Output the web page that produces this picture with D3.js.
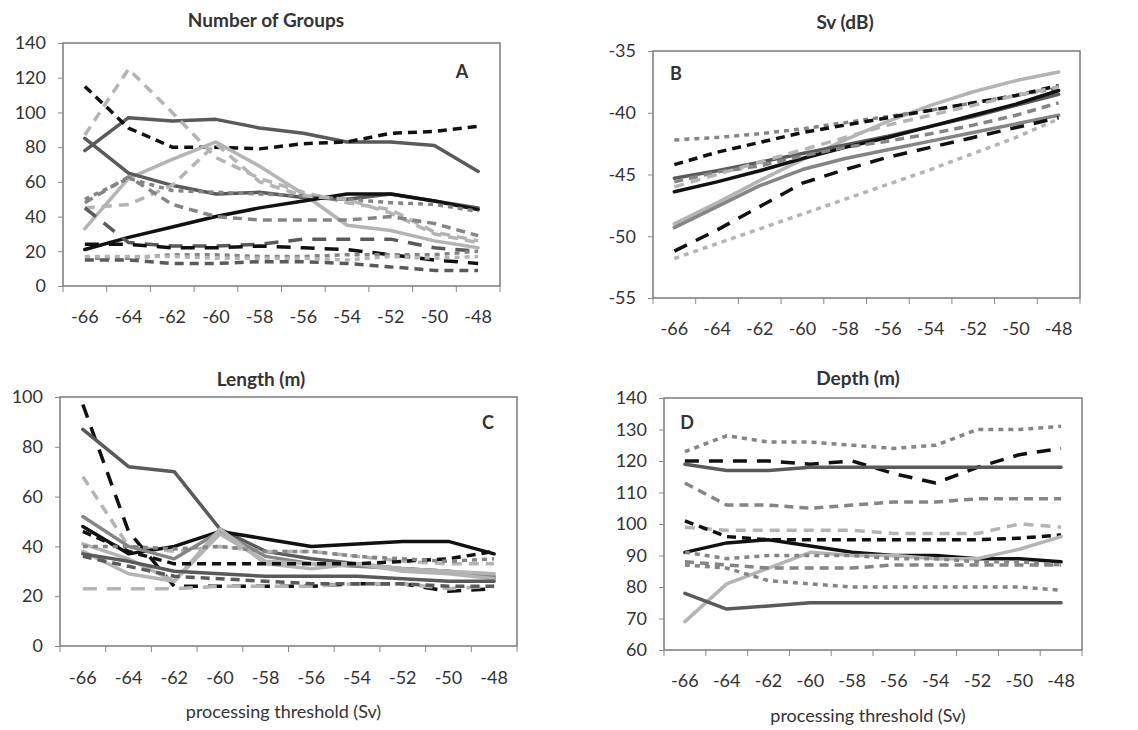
<!DOCTYPE html>
<html>
<head>
<meta charset="utf-8">
<script src="https://cdn.jsdelivr.net/npm/d3@7"></script>
<style>
  html, body { margin: 0; padding: 0; background: #fff; }
  svg text { font-family: Lato, "Open Sans", sans-serif; fill: #333; }
</style>
</head>
<body>
<svg id="chart" width="1138" height="730"></svg>
<script>
// Processing thresholds (Sv, dB) used as categories on every panel
const thresholds = ["-66", "-64", "-62", "-60", "-58", "-56", "-54", "-52", "-50", "-48"];

// Panel A: number of groups per school, one row per school
const groupsSeries = [
  [78, 97, 95, 96, 91, 88, 83, 83, 81, 66],
  [115, 91, 80, 80, 79, 82, 83, 88, 89, 92],
  [87, 125, 100, 74, 62, 54, 48, 44, 31, 26],
  [33, 62, 73, 83, 69, 53, 35, 32, 26, 22],
  [85, 65, 58, 53, 54, 51, 50, 53, 49, 45],
  [21, 28, 34, 40, 45, 49, 53, 53, 49, 44],
  [50, 62, 55, 54, 53, 52, 50, 48, 47, 43],
  [45, 47, 58, 82, 60, 52, 50, 42, 30, 25],
  [48, 63, 47, 40, 38, 38, 38, 40, 36, 29],
  [45, 25, 23, 23, 24, 27, 27, 27, 22, 20],
  [24, 24, 22, 22, 23, 22, 21, 18, 15, 13],
  [16, 16, 18, 18, 17, 17, 18, 18, 18, 20],
  [15, 15, 13, 13, 14, 14, 13, 11, 9, 9],
  [17, 17, 17, 16, 16, 16, 15, 17, 16, 17]
];
const groupsStyles = ["dkgrey", "blackDash", "ltgreyDash", "ltgrey", "dkgrey", "black", "greyDot",
  "ltgreyDash", "greyDash", "dkgreyLong", "blackLong", "greyDot", "dkgreyDash", "ltgreyDot"];

// Panel B: mean Sv (dB)
const svSeries = [
  [-49.0, -47.3, -45.5, -43.8, -42.2, -40.7, -39.4, -38.3, -37.4, -36.7],
  [-42.2, -42.0, -41.7, -41.3, -40.8, -40.3, -39.8, -39.2, -38.6, -38.0],
  [-44.2, -43.2, -42.4, -41.6, -41.0, -40.4, -39.8, -39.2, -38.6, -37.8],
  [-45.3, -44.7, -44.0, -43.3, -42.6, -41.9, -41.1, -40.3, -39.4, -38.5],
  [-46.4, -45.6, -44.7, -43.7, -42.8, -42.0, -41.1, -40.2, -39.3, -38.2],
  [-49.3, -47.6, -45.9, -44.6, -43.7, -43.0, -42.3, -41.6, -40.9, -40.2],
  [-51.2, -49.5, -47.6, -45.7, -44.6, -43.6, -42.8, -42.0, -41.2, -40.4],
  [-51.8, -50.6, -49.4, -48.2, -47.0, -45.8, -44.6, -43.3, -42.0, -40.5],
  [-45.6, -44.8, -44.3, -43.5, -42.8, -42.3, -41.7, -41.0, -40.2, -39.2],
  [-46.0, -45.0, -44.0, -43.0, -42.0, -41.0, -40.2, -39.4, -38.6, -37.9]
];
const svStyles = ["ltgrey", "greyDot", "blackDash", "dkgrey", "black", "grey", "blackLong",
  "ltgreyDot", "greyDash", "ltgreyDash"];

// Panel C: school length (m)
const lengthSeries = [
  [97, 46, 24, 24, 24, 24, 25, 25, 22, 23],
  [87, 72, 70, 47, 38, 35, 33, 31, 30, 27],
  [68, 40, 38, 40, 38, 38, 36, 34, 33, 33],
  [48, 37, 40, 46, 43, 40, 41, 42, 42, 37],
  [52, 40, 35, 46, 36, 33, 32, 31, 30, 28],
  [41, 35, 26, 47, 33, 31, 33, 31, 30, 29],
  [38, 29, 26, 45, 34, 33, 33, 30, 29, 27],
  [46, 38, 33, 33, 33, 33, 33, 34, 35, 38],
  [23, 23, 23, 24, 24, 24, 25, 25, 23, 24],
  [37, 34, 30, 29, 28, 28, 28, 27, 26, 26],
  [40, 40, 39, 40, 38, 38, 36, 35, 34, 35],
  [36, 32, 28, 27, 26, 25, 25, 25, 24, 24]
];
const lengthStyles = ["blackLong", "dkgrey", "ltgreyDash", "black", "grey", "ltgrey", "ltgrey",
  "blackDash", "ltgreyLong", "dkgrey", "greyDot", "dkgreyDash"];

// Panel D: school depth (m)
const depthSeries = [
  [123, 128, 126, 126, 125, 124, 125, 130, 130, 131],
  [120, 120, 120, 119, 120, 116, 113, 118, 122, 124],
  [119, 117, 117, 118, 118, 118, 118, 118, 118, 118],
  [113, 106, 106, 105, 106, 107, 107, 108, 108, 108],
  [99, 98, 98, 98, 98, 97, 97, 97, 100, 99],
  [101, 96, 95, 95, 95, 95, 95, 95, 95.5, 96.5],
  [91, 94, 95, 93, 91, 90, 90, 89, 89, 88],
  [69, 81, 86, 91, 90, 90, 89, 89, 92, 96],
  [78, 73, 74, 75, 75, 75, 75, 75, 75, 75],
  [91, 89, 90, 90, 90, 89, 89, 88, 88, 87],
  [88, 87, 86, 86, 86, 87, 87, 87, 87, 87],
  [87, 86, 82, 81, 80, 80, 80, 80, 80, 79]
];
const depthStyles = ["greyDot", "blackLong", "dkgrey", "greyDash", "ltgreyDash", "blackDash",
  "black", "ltgrey", "dkgrey", "greyDot", "greyDash", "greyDot"];

// Tick values for the y axes
const groupsTicks = [0, 20, 40, 60, 80, 100, 120, 140];
const svTicks = [-55, -50, -45, -40, -35];
const lengthTicks = [0, 20, 40, 60, 80, 100];
const depthTicks = [60, 70, 80, 90, 100, 110, 120, 130, 140];

// Line appearance keyed by name
const lineStyles = {
  black:       { color: "#111", dash: null },
  blackDash:   { color: "#111", dash: "9,6" },
  blackLong:   { color: "#111", dash: "14,10" },
  dkgrey:      { color: "#5a5a5a", dash: null },
  dkgreyDash:  { color: "#5a5a5a", dash: "9,6" },
  dkgreyLong:  { color: "#5a5a5a", dash: "14,10" },
  grey:        { color: "#858585", dash: null },
  greyDash:    { color: "#858585", dash: "9,6" },
  greyDot:     { color: "#858585", dash: "5,5" },
  ltgrey:      { color: "#b4b4b4", dash: null },
  ltgreyDash:  { color: "#b4b4b4", dash: "10,7" },
  ltgreyLong:  { color: "#b4b4b4", dash: "14,10" },
  ltgreyDot:   { color: "#b4b4b4", dash: "5,5" }
};

const panels = [
  { title: "Number of Groups", letter: "A", series: groupsSeries, styles: groupsStyles, ticks: groupsTicks,
    domain: [0, 140], box: { x0: 63, x1: 500, y0: 43, y1: 286 }, titlePos: [266, 19],
    letterPos: [462, 71], xLabelY: 316, xTitle: null },
  { title: "Sv (dB)", letter: "B", series: svSeries, styles: svStyles, ticks: svTicks,
    domain: [-55, -35], box: { x0: 653, x1: 1080, y0: 51, y1: 298 }, titlePos: [845, 21],
    letterPos: [676, 73], xLabelY: 328, xTitle: null },
  { title: "Length (m)", letter: "C", series: lengthSeries, styles: lengthStyles, ticks: lengthTicks,
    domain: [0, 100], box: { x0: 60, x1: 517, y0: 397, y1: 646 }, titlePos: [261, 378],
    letterPos: [488, 422], xLabelY: 677, xTitle: "processing threshold (Sv)", xTitleY: 711 },
  { title: "Depth (m)", letter: "D", series: depthSeries, styles: depthStyles, ticks: depthTicks,
    domain: [60, 140], box: { x0: 664, x1: 1082, y0: 398, y1: 650 }, titlePos: [858, 377],
    letterPos: [687, 422], xLabelY: 680, xTitle: "processing threshold (Sv)", xTitleY: 715 }
];

const svg = d3.select("#chart");

panels.forEach(p => {
  const b = p.box;
  const x = d3.scaleBand().domain(thresholds).range([b.x0, b.x1]).padding(0);
  const y = d3.scaleLinear().domain(p.domain).range([b.y1, b.y0]);
  const g = svg.append("g");

  // plot frame
  g.append("rect")
    .attr("x", b.x0).attr("y", b.y0)
    .attr("width", b.x1 - b.x0).attr("height", b.y1 - b.y0)
    .attr("fill", "none").attr("stroke", "#7a7a7a").attr("stroke-width", 1.5);

  // y axis (plain hyphen minus in labels)
  const yAxis = d3.axisLeft(y).tickValues(p.ticks).tickSize(5).tickPadding(12).tickFormat(d => String(d));
  const ya = g.append("g").attr("transform", `translate(${b.x0},0)`).call(yAxis);
  ya.select(".domain").remove();
  ya.selectAll(".tick line").attr("stroke", "#888");
  ya.selectAll(".tick text").style("font-size", "18px").attr("fill", "#3a3a3a");

  // x axis: tick marks on category boundaries, labels centred in each category
  const bounds = thresholds.map(t => x(t)).concat([b.x1]);
  g.selectAll(".xtick").data(bounds).join("line")
    .attr("x1", d => d).attr("x2", d => d)
    .attr("y1", b.y1).attr("y2", b.y1 + 6)
    .attr("stroke", "#888").attr("stroke-width", 1);
  g.selectAll(".xlab").data(thresholds).join("text")
    .attr("x", d => x(d) + x.bandwidth() / 2)
    .attr("y", p.xLabelY)
    .attr("text-anchor", "middle").attr("dominant-baseline", "central")
    .style("font-size", "18px").attr("fill", "#3a3a3a")
    .text(d => d);

  // series lines
  const line = d3.line()
    .x((d, i) => x(thresholds[i]) + x.bandwidth() / 2)
    .y(d => y(d));
  p.series.forEach((vals, i) => {
    const st = lineStyles[p.styles[i]];
    g.append("path")
      .datum(vals)
      .attr("d", line)
      .attr("fill", "none")
      .attr("stroke", st.color)
      .attr("stroke-width", 3.5)
      .attr("stroke-linejoin", "round")
      .attr("stroke-linecap", st.dash ? "butt" : "round")
      .attr("stroke-dasharray", st.dash);
  });

  // panel title
  g.append("text")
    .attr("x", p.titlePos[0]).attr("y", p.titlePos[1])
    .attr("text-anchor", "middle").attr("dominant-baseline", "central")
    .style("font-size", "19px").style("font-weight", "bold").attr("fill", "#444")
    .text(p.title);

  // panel letter
  g.append("text")
    .attr("x", p.letterPos[0]).attr("y", p.letterPos[1])
    .attr("text-anchor", "middle").attr("dominant-baseline", "central")
    .style("font-size", "18px").style("font-weight", "bold").attr("fill", "#222")
    .text(p.letter);

  // x axis title
  if (p.xTitle) {
    g.append("text")
      .attr("x", (b.x0 + b.x1) / 2 - 5)
      .attr("y", p.xTitleY)
      .attr("text-anchor", "middle").attr("dominant-baseline", "central")
      .style("font-size", "18px").attr("fill", "#3a3a3a")
      .text(p.xTitle);
  }
});
</script>
</body>
</html>
